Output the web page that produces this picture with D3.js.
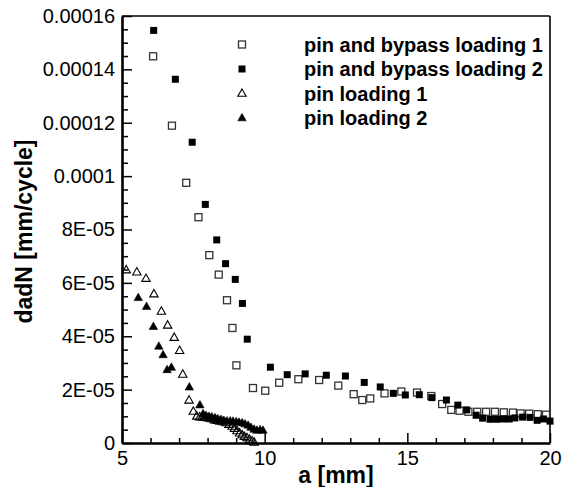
<!DOCTYPE html>
<html><head><meta charset="utf-8">
<script src="https://cdn.jsdelivr.net/npm/d3@7"></script>
<style>
body{margin:0;background:#fff;}
svg{display:block;font-family:"Liberation Sans",Arial,sans-serif;}
</style></head>
<body><svg id="c" width="564" height="487"></svg>
<script>
// ---- data ----
const xTicks = [5, 10, 15, 20];
const xMinor = [6,7,8,9,11,12,13,14,16,17,18,19];
const yTicks = [0, 2e-5, 4e-5, 6e-5, 8e-5, 1e-4, 1.2e-4, 1.4e-4, 1.6e-4];
const yTickLabels = ["0","2E-05","4E-05","6E-05","8E-05","0.0001","0.00012","0.00014","0.00016"];
const yMinor = [0.5e-5,1e-5,1.5e-5,2.5e-5,3e-5,3.5e-5,4.5e-5,5e-5,5.5e-5,6.5e-5,7e-5,7.5e-5,8.5e-5,9e-5,9.5e-5,10.5e-5,11e-5,11.5e-5,12.5e-5,13e-5,13.5e-5,14.5e-5,15e-5,15.5e-5];
const seriesNames = ["pin and bypass loading 1","pin and bypass loading 2","pin loading 1","pin loading 2"];

const pinBypass1 = [[6.09,14.49e-5],[6.75,11.89e-5],[7.25,9.75e-5],[7.68,8.46e-5],[8.06,7.04e-5],[8.39,6.31e-5],[8.68,5.35e-5],[8.87,4.31e-5],[9.01,2.91e-5],[9.59,2.06e-5],[10.02,1.96e-5],[10.51,2.26e-5],[11.18,2.39e-5],[11.91,2.36e-5],[12.58,2.15e-5],[13.12,1.83e-5],[13.42,1.61e-5],[13.70,1.67e-5],[14.20,1.86e-5],[14.79,1.93e-5],[15.34,1.89e-5],[15.84,1.76e-5],[16.22,1.46e-5],[16.54,1.24e-5],[16.83,1.21e-5],[17.14,1.17e-5],[17.45,1.17e-5],[17.76,1.17e-5],[18.07,1.17e-5],[18.38,1.15e-5],[18.70,1.14e-5],[18.97,1.11e-5],[19.27,1.10e-5],[19.57,1.08e-5],[19.86,1.06e-5]];

const pinBypass2 = [[6.11,15.46e-5],[6.87,13.63e-5],[7.46,11.27e-5],[7.92,8.94e-5],[8.32,7.61e-5],[8.63,6.72e-5],[8.97,6.13e-5],[9.22,5.23e-5],[9.39,3.89e-5],[10.20,2.84e-5],[10.79,2.56e-5],[11.42,2.59e-5],[12.16,2.54e-5],[12.83,2.51e-5],[13.49,2.27e-5],[14.05,2.10e-5],[14.51,1.86e-5],[14.93,1.80e-5],[15.42,1.81e-5],[15.86,1.70e-5],[16.37,1.61e-5],[16.77,1.42e-5],[17.08,1.24e-5],[17.41,1.04e-5],[17.64,0.93e-5],[17.90,0.89e-5],[18.13,0.89e-5],[18.36,0.90e-5],[18.57,0.90e-5],[18.77,0.94e-5],[19.04,0.97e-5],[19.30,0.96e-5],[19.55,0.85e-5],[19.77,0.90e-5],[20.0,0.82e-5]];

const pin1 = [[5.15,6.48e-5],[5.52,6.40e-5],[5.84,6.16e-5],[6.12,5.58e-5],[6.38,4.93e-5],[6.60,4.41e-5],[6.83,3.95e-5],[7.02,3.46e-5],[7.13,2.57e-5],[7.35,1.60e-5],[7.50,1.18e-5],[7.62,1.00e-5],[7.72,0.97e-5],[7.80,0.97e-5],[7.89,0.96e-5],[7.98,0.94e-5],[8.07,0.92e-5],[8.15,0.90e-5],[8.24,0.86e-5],[8.33,0.84e-5],[8.43,0.81e-5],[8.54,0.79e-5],[8.64,0.75e-5],[8.75,0.69e-5],[8.86,0.62e-5],[8.94,0.54e-5],[9.03,0.45e-5],[9.12,0.37e-5],[9.21,0.30e-5],[9.29,0.24e-5],[9.38,0.19e-5],[9.47,0.13e-5],[9.56,0.07e-5],[9.63,0.02e-5]];

const pin2 = [[5.57,5.44e-5],[5.86,5.11e-5],[6.10,4.36e-5],[6.29,3.62e-5],[6.44,3.30e-5],[6.58,2.74e-5],[6.73,2.83e-5],[7.36,2.09e-5],[7.73,1.42e-5],[7.84,1.09e-5],[7.94,1.03e-5],[8.05,0.99e-5],[8.15,0.97e-5],[8.26,0.94e-5],[8.36,0.90e-5],[8.47,0.88e-5],[8.57,0.84e-5],[8.68,0.82e-5],[8.79,0.82e-5],[8.89,0.81e-5],[9.00,0.79e-5],[9.10,0.77e-5],[9.21,0.75e-5],[9.31,0.71e-5],[9.42,0.66e-5],[9.52,0.58e-5],[9.63,0.51e-5],[9.73,0.47e-5],[9.84,0.49e-5],[9.94,0.47e-5]];

// ---- layout ----
const L = 122, R = 550, T = 16, B = 443;
const svg = d3.select("#c");
const x = d3.scaleLinear().domain([5, 20]).range([L, R]);
const y = d3.scaleLinear().domain([0, 1.6e-4]).range([B, T]);

// frame top & right
svg.append("line").attr("x1", L).attr("x2", R).attr("y1", T).attr("y2", T).attr("stroke", "#000").attr("stroke-width", 1.6);
svg.append("line").attr("x1", R).attr("x2", R).attr("y1", T).attr("y2", B).attr("stroke", "#000").attr("stroke-width", 1.6);

// markers
const sq = 7;
function square(g, data, filled) {
  g.selectAll(null).data(data).join("rect")
    .attr("x", d => x(d[0]) - sq / 2).attr("y", d => y(d[1]) - sq / 2)
    .attr("width", sq).attr("height", sq)
    .attr("fill", filled ? "#000" : "none")
    .attr("stroke", filled ? "none" : "#333").attr("stroke-width", 1.3);
}
function tri(g, data, filled) {
  g.selectAll(null).data(data).join("path")
    .attr("d", "M0,-4.6L4.2,2.8L-4.2,2.8Z")
    .attr("transform", d => `translate(${x(d[0])},${y(d[1])})`)
    .attr("fill", filled ? "#000" : "none")
    .attr("stroke", "#000").attr("stroke-width", filled ? 0.6 : 1.1);
}
const gm = svg.append("g");
square(gm.append("g"), pinBypass1, false);
square(gm.append("g"), pinBypass2, true);
tri(gm.append("g"), pin1, false);
tri(gm.append("g"), pin2, true);

// axes
const fs = 20;
const gx = svg.append("g").attr("transform", `translate(0,${B})`)
  .call(d3.axisBottom(x).tickValues(xTicks).tickSizeInner(-10).tickSizeOuter(0).tickPadding(8));
svg.append("g").attr("transform", `translate(0,${B})`)
  .call(d3.axisBottom(x).tickValues(xMinor).tickSizeInner(-5).tickSizeOuter(0).tickFormat(""))
  .select(".domain").remove();
const gy = svg.append("g").attr("transform", `translate(${L},0)`)
  .call(d3.axisLeft(y).tickValues(yTicks).tickSizeInner(-10).tickSizeOuter(0).tickPadding(7)
    .tickFormat((d, i) => yTickLabels[i]));
svg.append("g").attr("transform", `translate(${L},0)`)
  .call(d3.axisLeft(y).tickValues(yMinor).tickSizeInner(-6).tickSizeOuter(0).tickFormat(""))
  .select(".domain").remove();
svg.selectAll(".domain").attr("stroke-width", 2.6);
svg.selectAll(".tick line").attr("stroke-width", 1.5);
svg.selectAll(".tick text").attr("font-size", fs).attr("font-family", '"Liberation Sans",Arial,sans-serif').attr("fill", "#000");

// axis titles
svg.append("text").attr("x", (L + R) / 2).attr("y", 483).attr("text-anchor", "middle")
  .attr("font-size", 23).attr("font-weight", "bold").text("a [mm]");
svg.append("text").attr("transform", `translate(32,${(T + B) / 2 + 2}) rotate(-90)`).attr("text-anchor", "middle")
  .attr("font-size", 23).attr("font-weight", "bold").text("dadN [mm/cycle]");

// legend
const lg = svg.append("g");
const ly0 = 44.5, lstep = 24.5, lsx = 242, ltx = 304;
seriesNames.forEach((name, i) => {
  const cy = ly0 + i * lstep;
  if (i < 2) {
    lg.append("rect").attr("x", lsx - sq / 2).attr("y", cy - sq / 2).attr("width", sq).attr("height", sq)
      .attr("fill", i === 1 ? "#000" : "none").attr("stroke", i === 1 ? "none" : "#333").attr("stroke-width", 1.3);
  } else {
    lg.append("path").attr("d", "M0,-4.6L4.2,2.8L-4.2,2.8Z").attr("transform", `translate(${lsx},${cy})`)
      .attr("fill", i === 3 ? "#000" : "none").attr("stroke", "#000").attr("stroke-width", i === 3 ? 0.6 : 1.1);
  }
  lg.append("text").attr("x", ltx).attr("y", cy + 7).attr("font-size", 20).attr("font-weight", "bold").text(name);
});
</script></body></html>
